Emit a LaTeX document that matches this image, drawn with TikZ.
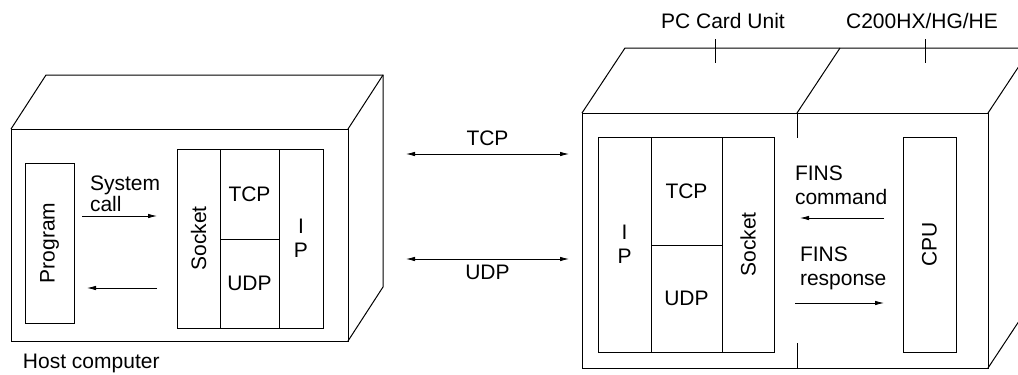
\documentclass[tikz,border=0pt]{standalone}
\usepackage{fontspec}
\setmainfont{Liberation Sans}
\usetikzlibrary{arrows.meta}

\begin{document}
\begin{tikzpicture}[
  x=1pt, y=-1pt,
  every node/.style={inner sep=0pt, outer sep=0pt, font=\fontsize{21}{24}\selectfont},
  frame/.style={draw, line width=1pt, anchor=north west},
  cell/.style={draw, line width=0.8pt, anchor=north west},
  edge3d/.style={line width=1pt},
  sig/.style={-{Latex[length=9pt,width=4.5pt]}, line width=0.8pt},
  twoway/.style={{Latex[length=9pt,width=4.5pt]}-{Latex[length=9pt,width=4.5pt]}, line width=0.8pt}
]
\useasboundingbox (0,0) rectangle (1018,375);
\clip (0,0) rectangle (1018,375);

% host computer
\node[frame, minimum width=337, minimum height=212] (host) at (11,129) {};
\draw[edge3d] (host.north west) -- ++(35,-54) -- ++(337,0) -- ++(0,212) -- (host.south east);
\draw[edge3d] (host.north east) -- ++(35,-54);
\node[anchor=west] (hostlbl) at (23,363) {Host computer};

\node[cell, minimum width=49, minimum height=160] (prog) at (25,163) {};
\node[rotate=90] (proglbl) at (prog.center) {Program};

\node[cell, minimum width=43, minimum height=179] (hsock) at (177,149) {};
\node[rotate=90] (hsocklbl) at (hsock.center) {Socket};
\node[cell, minimum width=59, minimum height=90] (htcp) at (hsock.north east) {TCP};
\node[cell, minimum width=59, minimum height=89] (hudp) at (htcp.south west) {UDP};
\node[cell, minimum width=44, minimum height=179, align=center] (hip) at (htcp.north east) {I\\P};

\node[anchor=west, align=left, font=\fontsize{21}{21}\selectfont] (syscall) at (90,194) {System\\call};
\coordinate (callA) at (82,216);
\coordinate (callB) at (157,216);
\coordinate (retA) at (157,288);
\coordinate (retB) at (87,288);
\draw[sig] (callA) -- (callB);
\draw[sig] (retA) -- (retB);

% links
\coordinate (tcpL) at (406,154);
\coordinate (tcpR) at (569,154);
\coordinate (udpL) at (406,259);
\coordinate (udpR) at (569,259);
\draw[twoway] (tcpL) -- (tcpR) node[midway, above=8pt] (tcplbl) {TCP};
\draw[twoway] (udpL) -- (udpR) node[midway, below=6pt] (udplbl) {UDP};

% PC side
\node[frame, minimum width=406, minimum height=255] (pc) at (582,113) {};
\draw[edge3d] (pc.north west) -- ++(43,-65) -- ++(450,0);
\draw[edge3d] (pc.north east) -- ++(43,-65) -- ++(0,255) -- (pc.south east);
\coordinate (divT) at (797,113);
\coordinate (divB) at (797,368);
\draw[edge3d] (divT) -- ++(43,-65);
\draw[line width=0.8pt] (divT) -- ++(0,25);
\draw[line width=0.8pt] (divB) -- ++(0,-25);

\node (cardlbl) at (723,21) {PC Card Unit};
\node (cpulbl) at (922,21) {C200HX/HG/HE};
\coordinate (cardtick) at (715,39);
\coordinate (cputick) at (925,39);
\draw[line width=0.8pt] (cardtick) -- ++(0,24);
\draw[line width=0.8pt] (cputick) -- ++(0,24);

\node[cell, minimum width=53, minimum height=215, align=center] (pip) at (598,137) {I\\P};
\node[cell, minimum width=71, minimum height=108] (ptcp) at (pip.north east) {TCP};
\node[cell, minimum width=71, minimum height=107] (pudp) at (ptcp.south west) {UDP};
\node[cell, minimum width=52, minimum height=215] (psock) at (ptcp.north east) {};
\node[rotate=90] (psocklbl) at (psock.center) {Socket};

\node[cell, minimum width=53, minimum height=215] (cpu) at (903,137) {};
\node[rotate=90] (cpulbl2) at (cpu.center) {CPU};

\node[anchor=west, align=left] (cmdlbl) at (795,185) {FINS\\command};
\node[anchor=west, align=left] (reslbl) at (800,268) {FINS\\response};
\coordinate (cmdA) at (884,218);
\coordinate (cmdB) at (800,218);
\coordinate (resA) at (795,303);
\coordinate (resB) at (884,303);
\draw[sig] (cmdA) -- (cmdB);
\draw[sig] (resA) -- (resB);
\end{tikzpicture}
\end{document}
